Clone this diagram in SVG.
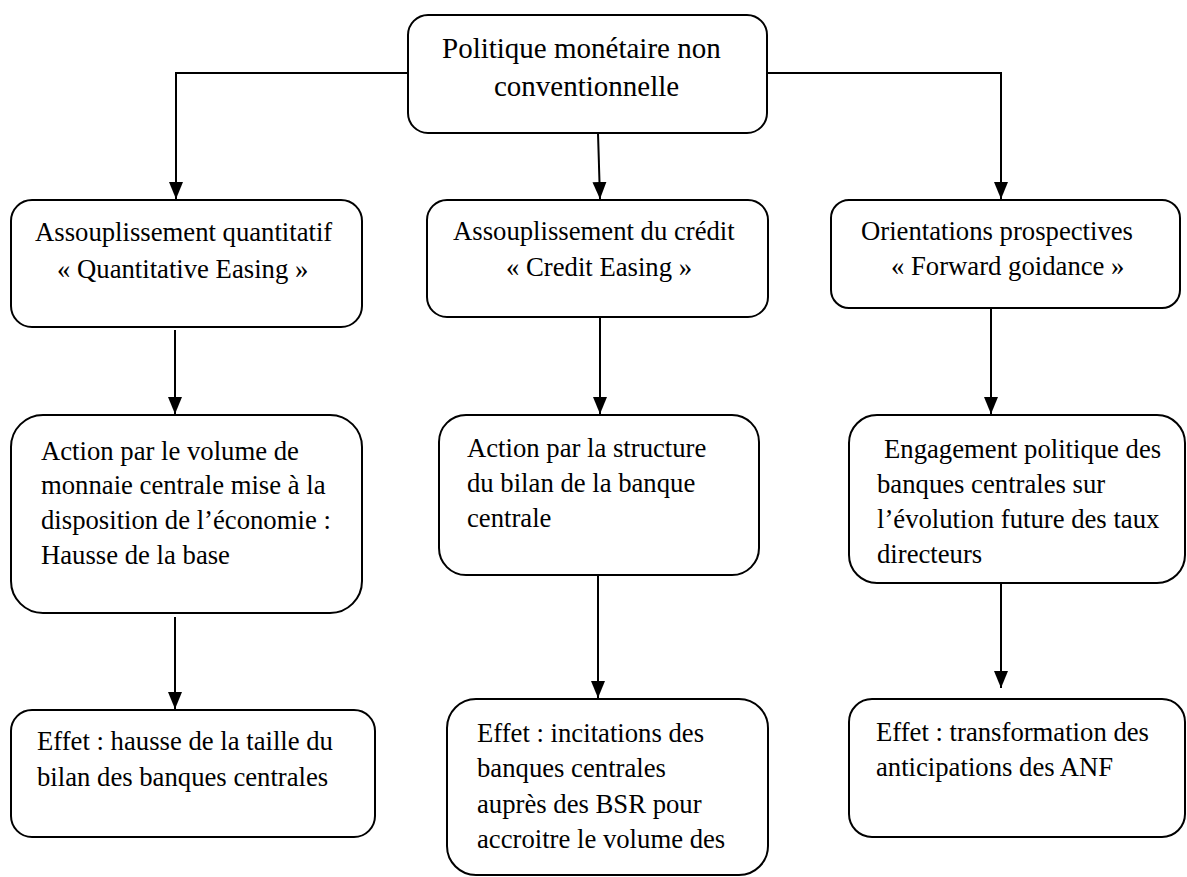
<svg xmlns="http://www.w3.org/2000/svg" width="1187" height="877" viewBox="0 0 1187 877">
<defs>
<style>
.box{fill:#fff;stroke:#000;stroke-width:2}
.t{font-size:26.7px;fill:#000}
.tt{font-size:29px;fill:#000}
.c{fill:none;stroke:#000;stroke-width:2}
</style>
<marker id="ad" markerUnits="userSpaceOnUse" markerWidth="18" markerHeight="16" viewBox="-17 -8 18 16" refX="0" refY="0" orient="auto">
<path d="M-17,-7 L0,0 L-17,7 Z" fill="#000"/>
</marker>
</defs>
<rect width="1187" height="877" fill="#fff"/>
<g id="connectors">
<polyline class="c" points="408,73 176,73 176,199" marker-end="url(#ad)"/>
<line class="c" x1="598" y1="133" x2="600" y2="199" marker-end="url(#ad)"/>
<polyline class="c" points="767,73 1001,73 1001,199" marker-end="url(#ad)"/>
<line class="c" x1="175" y1="330" x2="175" y2="414" marker-end="url(#ad)"/>
<line class="c" x1="600" y1="317" x2="600" y2="414" marker-end="url(#ad)"/>
<line class="c" x1="991" y1="308" x2="991" y2="414" marker-end="url(#ad)"/>
<line class="c" x1="175" y1="617" x2="175" y2="709" marker-end="url(#ad)"/>
<line class="c" x1="598" y1="575" x2="598" y2="698" marker-end="url(#ad)"/>
<line class="c" x1="1001" y1="583" x2="1001" y2="688" marker-end="url(#ad)"/>
</g>
<g font-family="Liberation Serif, DejaVu Serif, serif">
<g id="n-top">
<rect class="box" x="408" y="15" width="359" height="118" rx="20"/>
<text class="tt" x="442" y="58">Politique monétaire non</text>
<text class="tt" x="494" y="96">conventionnelle</text>
</g>
<g id="n-qe">
<rect class="box" x="11" y="200" width="351" height="127" rx="21"/>
<text class="t" x="35" y="241">Assouplissement quantitatif</text>
<text class="t" x="57" y="278">« Quantitative Easing »</text>
</g>
<g id="n-ce">
<rect class="box" x="427" y="200" width="341" height="117" rx="20"/>
<text class="t" x="453" y="240">Assouplissement du crédit</text>
<text class="t" x="506" y="276">« Credit Easing »</text>
</g>
<g id="n-fg">
<rect class="box" x="831" y="200" width="349" height="108" rx="18"/>
<text class="t" x="861" y="240">Orientations prospectives</text>
<text class="t" x="891" y="275">« Forward goidance »</text>
</g>
<g id="n-qe-action">
<rect class="box" x="11" y="415" width="351" height="198" rx="32"/>
<text class="t" x="41" y="460">Action par le volume de</text>
<text class="t" x="41" y="494">monnaie centrale mise à la</text>
<text class="t" x="41" y="529">disposition de l’économie :</text>
<text class="t" x="41" y="564">Hausse de la base</text>
</g>
<g id="n-ce-action">
<rect class="box" x="439" y="415" width="320" height="160" rx="27"/>
<text class="t" x="467" y="457">Action par la structure</text>
<text class="t" x="467" y="492">du bilan de la banque</text>
<text class="t" x="467" y="527">centrale</text>
</g>
<g id="n-fg-action">
<rect class="box" x="849" y="415" width="336" height="168" rx="28"/>
<text class="t" x="884" y="458">Engagement politique des</text>
<text class="t" x="877" y="493">banques centrales sur</text>
<text class="t" x="877" y="528">l’évolution future des taux</text>
<text class="t" x="877" y="563">directeurs</text>
</g>
<g id="n-qe-effect">
<rect class="box" x="11" y="710" width="364" height="127" rx="21"/>
<text class="t" x="37" y="750">Effet : hausse de la taille du</text>
<text class="t" x="37" y="786">bilan des banques centrales</text>
</g>
<g id="n-ce-effect">
<rect class="box" x="447" y="699" width="321" height="176" rx="29"/>
<text class="t" x="477" y="742">Effet : incitations des</text>
<text class="t" x="477" y="777">banques centrales</text>
<text class="t" x="477" y="813">auprès des BSR pour</text>
<text class="t" x="477" y="848">accroitre le volume des</text>
</g>
<g id="n-fg-effect">
<rect class="box" x="849" y="699" width="336" height="138" rx="23"/>
<text class="t" x="876" y="741">Effet : transformation des</text>
<text class="t" x="876" y="776">anticipations des ANF</text>
</g>
</g>
</svg>
